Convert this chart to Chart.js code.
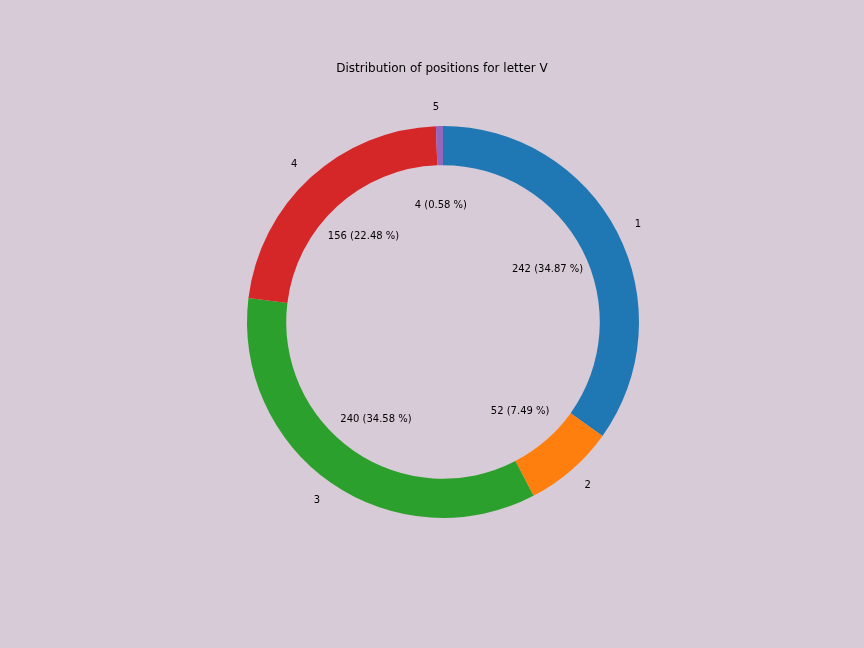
<!DOCTYPE html>
<html>
<head>
<meta charset="utf-8">
<script src="https://cdn.jsdelivr.net/npm/chart.js@4/dist/chart.umd.min.js"></script>
<style>
  html, body { margin: 0; padding: 0; background: #d8cbd8; }
  #wrap { width: 864px; height: 648px; position: relative; }
</style>
</head>
<body>
<div id="wrap"><canvas id="posChart" width="864" height="648"></canvas></div>
<script>
const positions = ['1', '2', '3', '4', '5'];
const counts = [242, 52, 240, 156, 4];
const sliceColors = ['#1f77b4', '#ff7f0e', '#2ca02c', '#d62728', '#9467bd'];
const chartTitle = 'Distribution of positions for letter V';

const total = counts.reduce((a, b) => a + b, 0);

// draws title, outer labels and the "n (pct %)" labels like matplotlib does
const pieLabels = {
  id: 'pieLabels',
  afterDraw(chart) {
    const ctx = chart.ctx;
    const meta = chart.getDatasetMeta(0);
    ctx.save();
    ctx.fillStyle = '#000';
    ctx.font = '12px "DejaVu Sans"';
    ctx.textAlign = 'center';
    ctx.textBaseline = 'middle';
    ctx.fillText(chartTitle, 442, 69);

    ctx.font = '10px "DejaVu Sans"';
    meta.data.forEach((arc, i) => {
      const mid = (arc.startAngle + arc.endAngle) / 2;
      const r = arc.outerRadius;
      const cx = arc.x, cy = arc.y;
      // outer label
      const lx = cx + Math.cos(mid) * r * 1.1;
      const ly = cy + Math.sin(mid) * r * 1.1;
      ctx.textAlign = lx > cx ? 'left' : 'right';
      ctx.fillText(positions[i], lx, ly + 1);
      // value label
      const px = cx + Math.cos(mid) * r * 0.6;
      const py = cy + Math.sin(mid) * r * 0.6;
      ctx.textAlign = 'center';
      const pct = (counts[i] / total * 100).toFixed(2);
      ctx.fillText(counts[i] + ' (' + pct + ' %)', px, py + 1);
    });
    ctx.restore();
  }
};

new Chart(document.getElementById('posChart').getContext('2d'), {
  type: 'doughnut',
  data: {
    labels: positions,
    datasets: [{
      data: counts,
      backgroundColor: sliceColors,
      borderWidth: 0
    }]
  },
  options: {
    responsive: false,
    animation: false,
    cutout: '80%',
    layout: { padding: { top: 126, bottom: 130, left: 22, right: 0 } },
    plugins: {
      legend: { display: false },
      tooltip: { enabled: false },
      title: { display: false }
    }
  },
  plugins: [pieLabels]
});
</script>
</body>
</html>
